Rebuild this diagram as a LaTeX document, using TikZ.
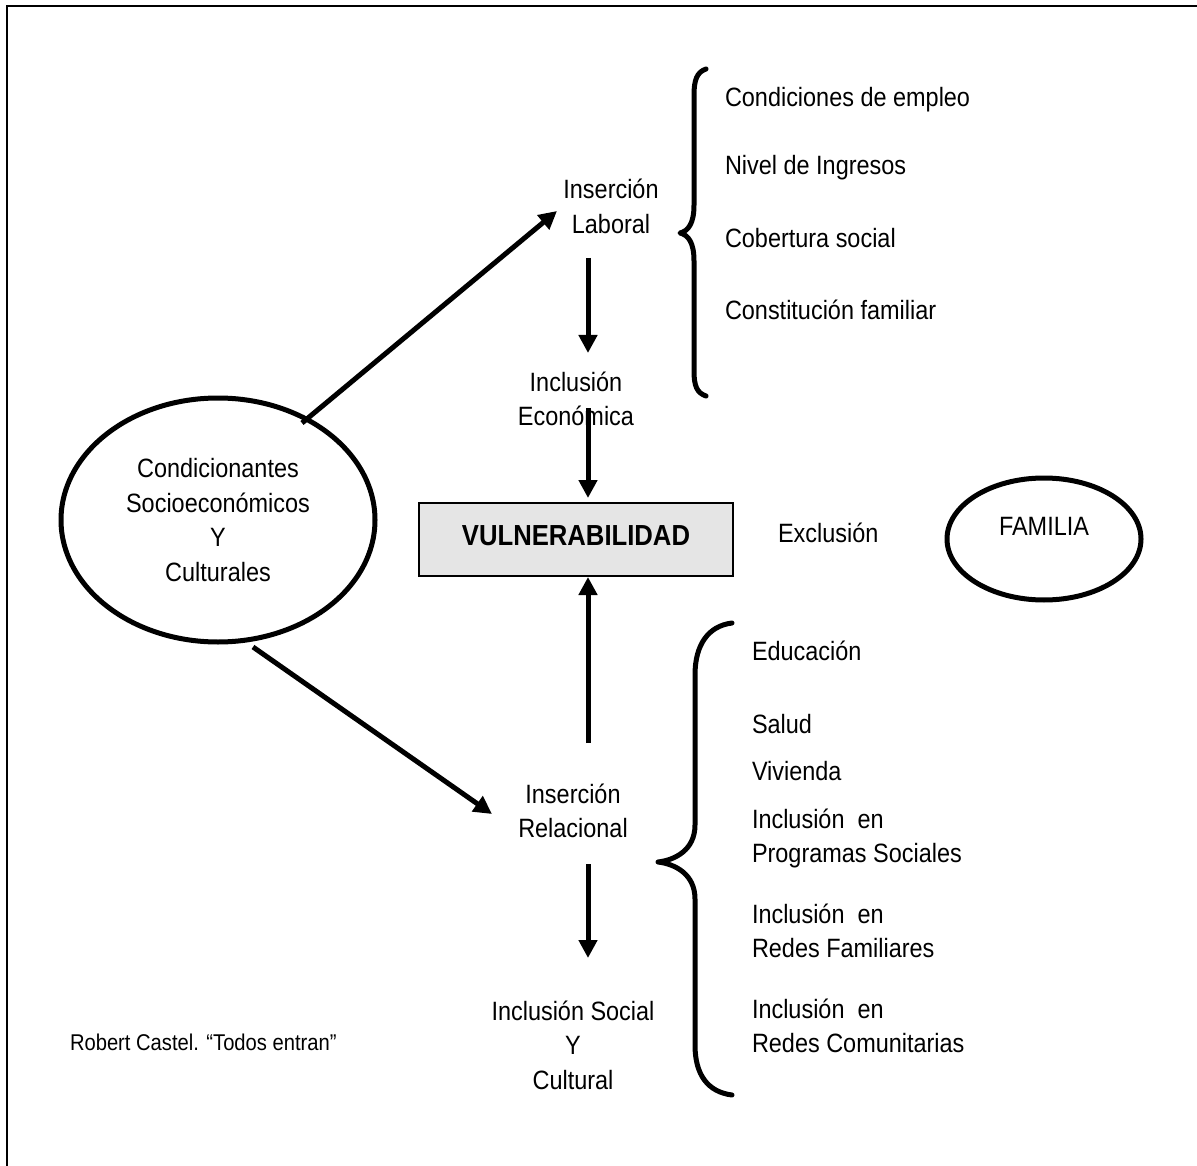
\documentclass[tikz,border=0pt]{standalone}
\usepackage{fontspec}
\setmainfont[FakeStretch=0.885]{Liberation Sans}
\usetikzlibrary{arrows.meta,shapes.geometric}
\begin{document}
\begin{tikzpicture}[x=1pt,y=-1pt,
  txt/.style={inner sep=0pt, outer sep=0pt, font=\fontsize{26.5}{34.5}\selectfont},
  ctxt/.style={txt, align=center, anchor=base},
  ltxt/.style={txt, align=left, anchor=base west},
  arr/.style={line width=5pt, -{Triangle[width=18pt,length=18pt]}},
  bracestyle/.style={line width=5pt, line cap=round, line join=round},
  ell/.style={draw, ellipse, line width=5pt, inner sep=0pt}
]
\useasboundingbox (0,0) rectangle (1197,1166);
% frame
\draw[line width=2.5pt] (1197,6) -- (7,6) -- (7,1166);

% left ellipse
\node[ell, minimum width=314pt, minimum height=244pt, align=center,
      font=\fontsize{26.5}{34.5}\selectfont] (cond) at (218,520)
      {Condicionantes\\Socioeconómicos\\Y\\Culturales};

% centre column texts (base = baseline of last line)
\node[ctxt] (lab) at (611,233.5) {Inserción\\Laboral};
\node[ctxt] (eco) at (576,425.5) {Inclusión\\Económica};
\node[ctxt] (rel) at (573,837.5) {Inserción\\Relacional};
\node[ctxt] (soc) at (573,1089) {Inclusión Social\\Y\\Cultural};

% vulnerability box
\node[draw, line width=2.5pt, fill=black!10, minimum width=314pt, minimum height=73pt,
      inner sep=0pt, text height=21pt, text depth=10pt,
      font=\bfseries\fontsize{29}{31}\selectfont] (vul) at (576,539.5) {VULNERABILIDAD};

\node[txt, anchor=base west] (exc) at (778,542) {Exclusión};

% familia
\node[ell, minimum width=194pt, minimum height=122pt] (fam) at (1044,539) {};
\node[txt, anchor=base] (famt) at (1044,535) {FAMILIA};

% upper list
\node[ltxt] (u1) at (725,107) {Condiciones de empleo};
\node[ltxt] (u2) at (725,175) {Nivel de Ingresos};
\node[ltxt] (u3) at (725,248) {Cobertura social};
\node[ltxt] (u4) at (725,320) {Constitución familiar};

% lower list
\node[ltxt] (l1) at (752,660) {Educación};
\node[ltxt] (l2) at (752,733) {Salud};
\node[ltxt] (l3) at (752,780) {Vivienda};
\node[ltxt] (l4) at (752,862.5) {Inclusión~ en\\Programas Sociales};
\node[ltxt] (l5) at (752,957.5) {Inclusión~ en\\Redes Familiares};
\node[ltxt] (l6) at (752,1052.5) {Inclusión~ en\\Redes Comunitarias};

% source
\node[txt, anchor=base west, font=\fontsize{22.8}{26}\selectfont] (src) at (70,1050)
      {Robert Castel. “Todos entran”};

% arrow end points
\coordinate (d1s) at (302,423); \coordinate (d1e) at (557,211);
\coordinate (d2s) at (253,647); \coordinate (d2e) at (492,814);
\coordinate (v1s) at (588,258); \coordinate (v1e) at (588,353);
\coordinate (v2s) at (588,408); \coordinate (v2e) at (588,498);
\coordinate (v3s) at (588,743); \coordinate (v3e) at (588,577);
\coordinate (v4s) at (588,864); \coordinate (v4e) at (588,958);

\draw[arr] (d1s) -- (d1e);
\draw[arr] (d2s) -- (d2e);
\draw[arr] (v1s) -- (v1e);
\draw[arr] (v2s) -- (v2e);
\draw[arr] (v3s) -- (v3e);
\draw[arr] (v4s) -- (v4e);

% upper brace
\draw[bracestyle] (706,69) .. controls (697,72) and (694,80) .. (694,95)
  -- (694,205) .. controls (694,224) and (688,231) .. (680,233)
  .. controls (688,235) and (694,242) .. (694,261)
  -- (694,371) .. controls (694,386) and (697,393) .. (706,396);

% lower brace
\draw[bracestyle] (732,623) .. controls (708,626) and (695,645) .. (695,675)
  -- (695,825) .. controls (695,850) and (675,860) .. (658,862)
  .. controls (675,864) and (695,874) .. (695,899)
  -- (695,1045) .. controls (695,1075) and (708,1092) .. (732,1095);
\end{tikzpicture}
\end{document}
